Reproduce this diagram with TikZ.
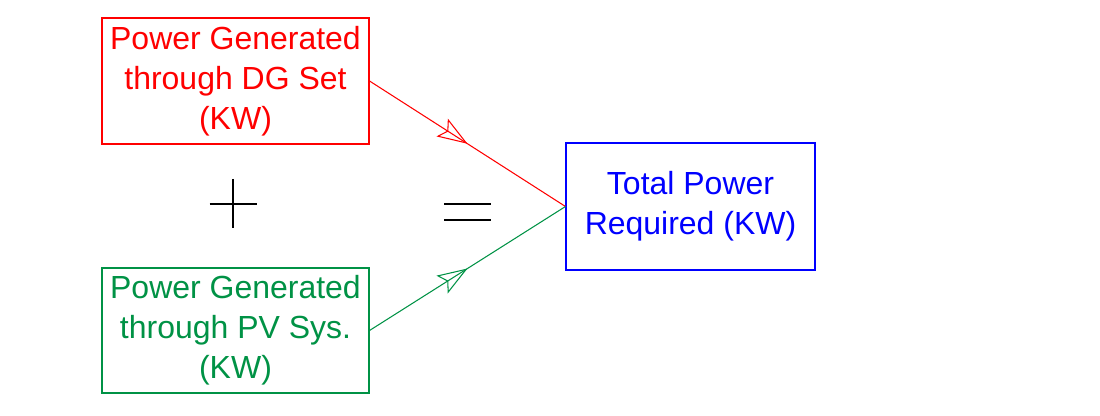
\documentclass[tikz,border=0pt]{standalone}
\usepackage{fontspec}
\setmainfont{Liberation Sans}
\usetikzlibrary{arrows.meta,decorations.markings}

\definecolor{pvgreen}{RGB}{0,146,69}

\begin{document}
\begin{tikzpicture}[
    box/.style={draw, line width=0.6pt, align=center, inner sep=0pt,
        font=\fontsize{18.2}{22.8}\selectfont},
    flow/.style={line width=0.6pt, postaction={decorate}, decoration={markings,
        mark=at position 0.5 with {\arrow{Stealth[open, length=0.6cm, width=0.42cm, inset=0.12cm]}}}},
    sign/.style={black, line width=0.6pt}
]
    % page size
    \useasboundingbox (0,0) rectangle (22,-8.32);

    % draw boxes
    \node[box, red, minimum width=5.34cm, minimum height=2.52cm] (dgset) at (4.71,-1.62)
        {Power Generated\\through DG Set\\(KW)};
    \node[box, pvgreen, minimum width=5.34cm, minimum height=2.5cm] (pvsys) at (4.71,-6.61)
        {Power Generated\\through PV Sys.\\(KW)};
    \node[box, blue, minimum width=4.98cm, minimum height=2.54cm] (total) at (13.81,-4.13)
        {Total Power\\Required (KW)};

    % draw connectors
    \draw[flow, red] (dgset.east) -- (total.west);
    \draw[flow, pvgreen] (pvsys.east) -- (total.west);

    % plus and equals
    \coordinate (plus) at (4.66,-4.08);
    \draw[sign] ([xshift=-0.47cm]plus) -- ([xshift=0.47cm]plus);
    \draw[sign] ([yshift=0.5cm]plus) -- ([yshift=-0.48cm]plus);
    \coordinate (equals) at (9.35,-4.24);
    \draw[sign] ([xshift=-0.47cm,yshift=0.16cm]equals) -- ([xshift=0.47cm,yshift=0.16cm]equals);
    \draw[sign] ([xshift=-0.47cm,yshift=-0.16cm]equals) -- ([xshift=0.47cm,yshift=-0.16cm]equals);

\end{tikzpicture}
\end{document}
